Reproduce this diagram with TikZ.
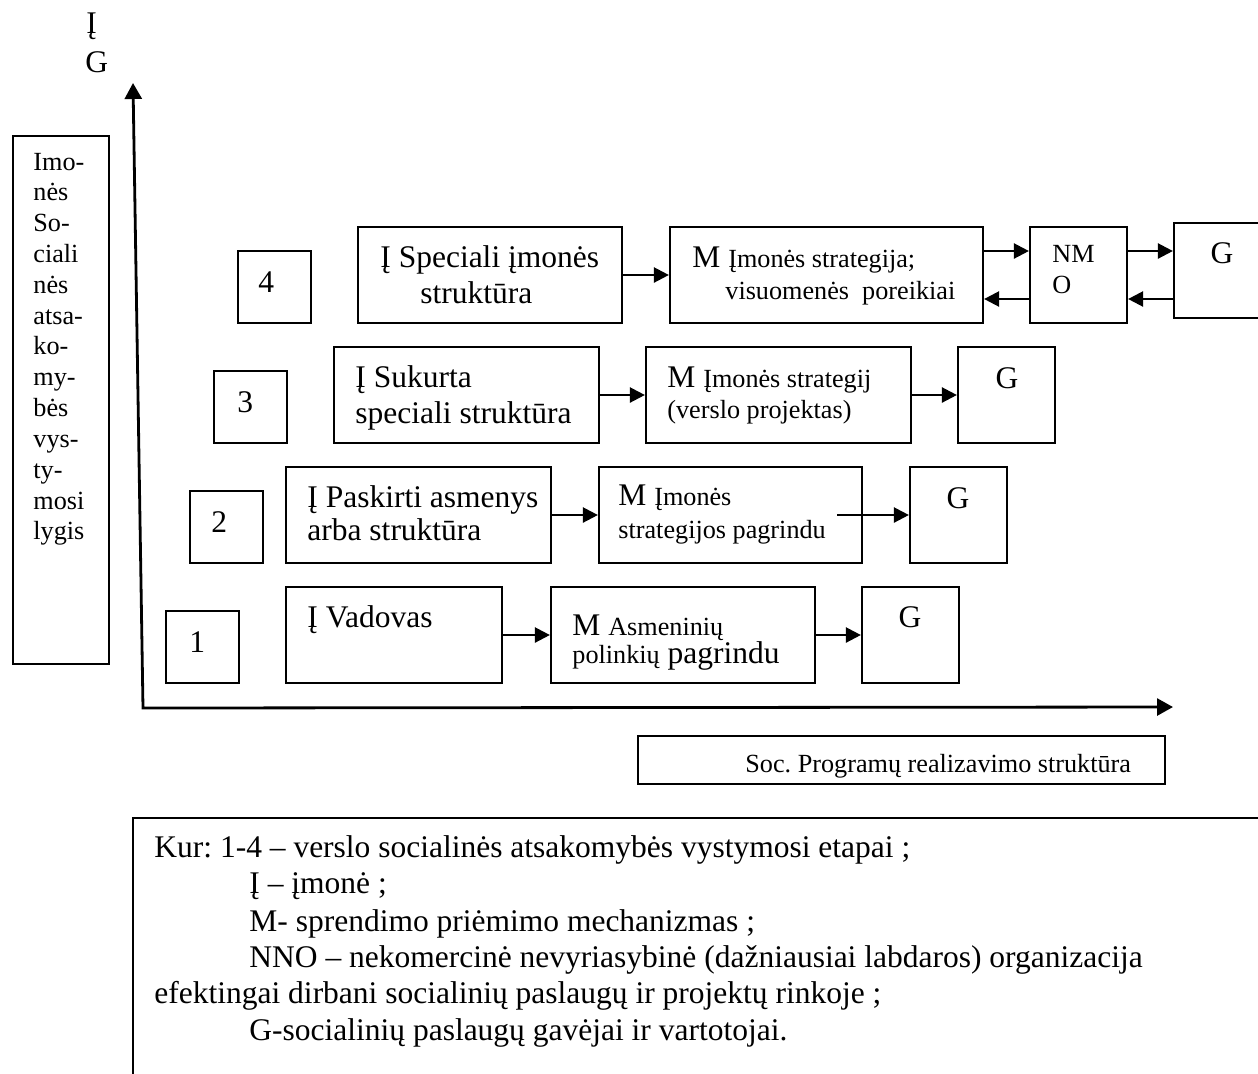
\documentclass[tikz,border=0pt]{standalone}
\usepackage{fontspec}
\setmainfont{Liberation Serif}
\usetikzlibrary{arrows.meta,fit}
\newcommand\szA{\fontsize{15.75pt}{18pt}\selectfont}
\newcommand\szB{\fontsize{13.1pt}{15.4pt}\selectfont}
\frenchspacing
\begin{document}
\begin{tikzpicture}[x=0.5pt,y=-0.5pt,
  box/.style={draw, line width=1.1pt, inner sep=0pt},
  t/.style={inner sep=0pt, anchor=base west, font=\szA},
  ts/.style={inner sep=0pt, anchor=base west, font=\szB},
  tc/.style={inner sep=0pt, anchor=base, font=\szA},
  arr/.style={line width=1.2pt, -{Triangle[length=7.5pt,width=7.5pt]}},
  axisline/.style={line width=1.4pt, {Triangle[length=8pt,width=8.5pt]}-{Triangle[length=8pt,width=8.5pt]}}]
\useasboundingbox (0,0) rectangle (1258,1073);
\clip (0,0) rectangle (1258,1073);

% top labels
\node[t] (topI) at (86,33) {Į};
\node[t] (topG) at (85,72) {G};

% axes
\coordinate (ytip) at (133,83);
\coordinate (orig) at (143,708);
\coordinate (xtip) at (1173,707);
\draw[axisline] (ytip) -- (orig) -- (xtip);

% left box
\node[box, fit={(13,136) (109,664)}] (lbox) {};
\foreach \w [count=\i from 0] in {Imo-,nės,So-,ciali,nės,atsa-,ko-,my-,bės,vys-,ty-,mosi,lygis}
  \node[ts] (lb\i) at (33,{170+30.83*\i}) {\w};

% number boxes
\node[box, fit={(238,251) (311,323)}] (n4) {};
\node[box, fit={(214,371) (287,443)}] (n3) {};
\node[box, fit={(190,491) (263,563)}] (n2) {};
\node[box, fit={(166,611) (239,683)}] (n1) {};
\node[t] (n4t) at (258,292) {4};
\node[t] (n3t) at (237,412) {3};
\node[t] (n2t) at (211,532) {2};
\node[t] (n1t) at (189,652) {1};

% row 4
\node[box, fit={(358,227) (622,323)}] (i4) {};
\node[box, fit={(670,227) (983,323)}] (m4) {};
\node[box, fit={(1030,227) (1127,323)}] (nmo) {};
\node[box, fit={(1174,223) (1268,318)}] (g4) {};
\node[t] (i4a) at (380,267) {Į Speciali įmonės};
\node[t] (i4b) at (420,303) {struktūra};
\node[t] (m4a) at (692,267) {M {\szB Įmonės strategija;}};
\node[ts] (m4b) at (725,299) {visuomenės\ \ poreikiai};
\node[ts] (nmoa) at (1052,262) {NM};
\node[ts] (nmob) at (1052,293) {O};
\node[tc] (g4t) at (1222,263) {G};
\draw[arr] (i4.east) -- (m4.west);
\draw[arr] ([yshift=12pt]m4.east) -- ([yshift=12pt]nmo.west);
\draw[arr] ([yshift=-12pt]nmo.west) -- ([yshift=-12pt]m4.east);
\draw[arr] ([yshift=12pt]nmo.east) -- ([yshift=12pt]nmo.east -| g4.west);
\draw[arr] ([yshift=-12pt]nmo.east -| g4.west) -- ([yshift=-12pt]nmo.east);

% row 3
\node[box, fit={(334,347) (599,443)}] (i3) {};
\node[box, fit={(646,347) (911,443)}] (m3) {};
\node[box, fit={(958,347) (1055,443)}] (g3) {};
\node[t] (i3a) at (355,387) {Į Sukurta};
\node[t] (i3b) at (355,423) {speciali struktūra};
\node[t] (m3a) at (667,387) {M {\szB Įmonės strategij}};
\node[ts] (m3b) at (667,418) {(verslo projektas)};
\node[tc] (g3t) at (1007,388) {G};
\draw[arr] (i3.east) -- (m3.west);
\draw[arr] (m3.east) -- (g3.west);

% row 2
\node[box, fit={(286,467) (551,563)}] (i2) {};
\node[box, fit={(599,467) (862,563)}] (m2) {};
\node[box, fit={(910,467) (1007,563)}] (g2) {};
\node[t] (i2a) at (307,507) {Į Paskirti asmenys};
\node[t] (i2b) at (307,540) {arba struktūra};
\node[t] (m2a) at (618,505) {M {\szB Įmonės}};
\node[ts] (m2b) at (618,538) {strategijos pagrindu};
\node[tc] (g2t) at (958,508) {G};
\coordinate (m2s) at (837,515);
\draw[arr] (i2.east) -- (m2.west);
\draw[arr] (m2s) -- (g2.west);

% row 1
\node[box, fit={(286,587) (502,683)}] (i1) {};
\node[box, fit={(551,587) (815,683)}] (m1) {};
\node[box, fit={(862,587) (959,683)}] (g1) {};
\node[t] (i1a) at (307,627) {Į Vadovas};
\node[t] (m1a) at (572,635) {M {\szB Asmeninių}};
\node[t] (m1b) at (572,663) {{\szB polinkių} pagrindu};
\node[tc] (g1t) at (910,627) {G};
\draw[arr] (i1.east) -- (m1.west);
\draw[arr] (m1.east) -- (g1.west);

% x-axis label box
\node[box, fit={(638,736) (1165,784)}] (soc) {};
\node[ts] (soct) at (745,772) {Soc. Programų realizavimo struktūra};

% legend
\coordinate (lgtr) at (1270,818);
\coordinate (lgtl) at (133,818);
\coordinate (lgbl) at (133,1080);
\draw[line width=1.1pt] (lgtr) -- (lgtl) -- (lgbl);
\node[t] (lg1) at (154,857) {Kur: 1-4 – verslo socialinės atsakomybės vystymosi etapai ;};
\node[t] (lg2) at (249,893) {Į – įmonė ;};
\node[t] (lg3) at (249,931) {M- sprendimo priėmimo mechanizmas ;};
\node[t] (lg4) at (249,967) {NNO – nekomercinė nevyriasybinė (dažniausiai labdaros) organizacija};
\node[t] (lg5) at (154,1003) {efektingai dirbani socialinių paslaugų ir projektų rinkoje ;};
\node[t] (lg6) at (249,1040) {G-socialinių paslaugų gavėjai ir vartotojai.};
\end{tikzpicture}
\end{document}
